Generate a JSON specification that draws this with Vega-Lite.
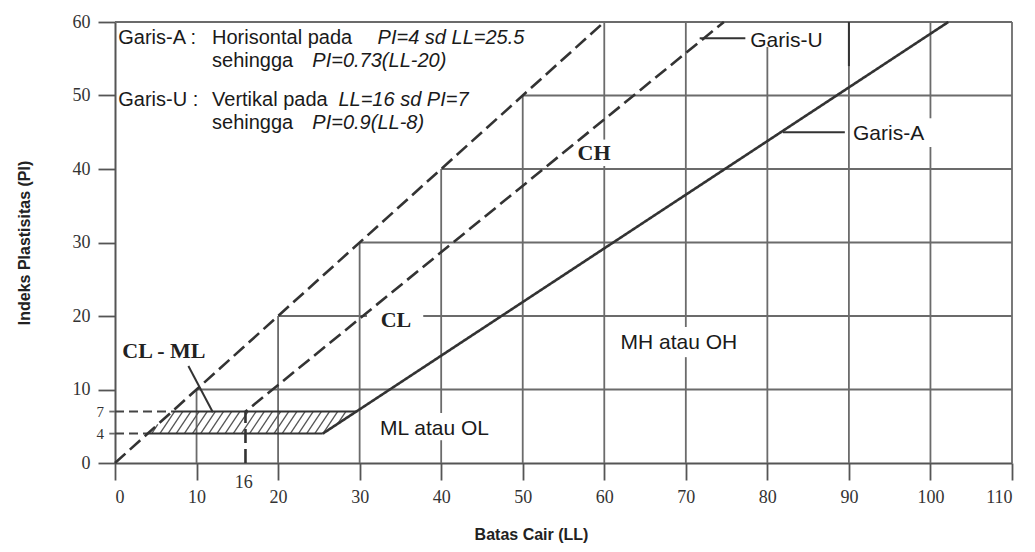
{
  "$schema": "https://vega.github.io/schema/vega-lite/v6.json",
  "width": 897,
  "height": 441,
  "autosize": {"type": "none"},
  "padding": {"left": 115, "top": 22, "right": 23, "bottom": 89},
  "background": "white",
  "config": {
    "view": {"stroke": null},
    "axis": {"grid": false}
  },
  "datasets": {
    "grid": [
      {"x": 10, "y": 0, "x2": 10, "y2": 10},
      {"x": 20, "y": 0, "x2": 20, "y2": 20},
      {"x": 30, "y": 0, "x2": 30, "y2": 30},
      {"x": 40, "y": 0, "x2": 40, "y2": 3.1},
      {"x": 40, "y": 6.8, "x2": 40, "y2": 40},
      {"x": 50, "y": 0, "x2": 50, "y2": 50},
      {"x": 60, "y": 0, "x2": 60, "y2": 40.4},
      {"x": 60, "y": 44, "x2": 60, "y2": 60},
      {"x": 70, "y": 0, "x2": 70, "y2": 14.4},
      {"x": 70, "y": 18.5, "x2": 70, "y2": 60},
      {"x": 80, "y": 0, "x2": 80, "y2": 56.6},
      {"x": 90, "y": 0, "x2": 90, "y2": 60},
      {"x": 100, "y": 0, "x2": 100, "y2": 43},
      {"x": 100, "y": 46.9, "x2": 100, "y2": 60},
      {"x": 110, "y": 0, "x2": 110, "y2": 60},
      {"x": 10, "y": 10, "x2": 110, "y2": 10},
      {"x": 20, "y": 20, "x2": 30.9, "y2": 20},
      {"x": 37.8, "y": 20, "x2": 110, "y2": 20},
      {"x": 30, "y": 30, "x2": 110, "y2": 30},
      {"x": 40, "y": 40, "x2": 110, "y2": 40},
      {"x": 50, "y": 50, "x2": 110, "y2": 50},
      {"x": 0, "y": 60, "x2": 110, "y2": 60},
      {"x": -0.7, "y": 7, "x2": 0, "y2": 7},
      {"x": -0.7, "y": 4, "x2": 0, "y2": 4}
    ],
    "dark": [
      {"x": 90, "y": 54, "x2": 90, "y2": 60},
      {"x": 4, "y": 4, "x2": 25.48, "y2": 4},
      {"x": 7, "y": 7, "x2": 29.59, "y2": 7},
      {"x": 71.7, "y": 57.8, "x2": 77.3, "y2": 57.8},
      {"x": 81.9, "y": 45, "x2": 89.5, "y2": 45},
      {"x": 9, "y": 13.2, "x2": 12, "y2": 6.9}
    ],
    "dashed": [
      {"x": 0, "y": 7, "x2": 7, "y2": 7},
      {"x": 0, "y": 4, "x2": 4, "y2": 4}
    ],
    "hatch": [
      {"x": 4.5, "y": 4, "x2": 5.25, "y2": 5.25},
      {"x": 5.5, "y": 4, "x2": 7.3, "y2": 7},
      {"x": 6.5, "y": 4, "x2": 8.3, "y2": 7},
      {"x": 7.5, "y": 4, "x2": 9.3, "y2": 7},
      {"x": 8.5, "y": 4, "x2": 10.3, "y2": 7},
      {"x": 9.5, "y": 4, "x2": 11.3, "y2": 7},
      {"x": 10.5, "y": 4, "x2": 12.3, "y2": 7},
      {"x": 11.5, "y": 4, "x2": 13.3, "y2": 7},
      {"x": 12.5, "y": 4, "x2": 14.3, "y2": 7},
      {"x": 13.5, "y": 4, "x2": 15.3, "y2": 7},
      {"x": 14.5, "y": 4, "x2": 16.3, "y2": 7},
      {"x": 15.5, "y": 4, "x2": 17.3, "y2": 7},
      {"x": 16.5, "y": 4, "x2": 18.3, "y2": 7},
      {"x": 17.5, "y": 4, "x2": 19.3, "y2": 7},
      {"x": 18.5, "y": 4, "x2": 20.3, "y2": 7},
      {"x": 19.5, "y": 4, "x2": 21.3, "y2": 7},
      {"x": 20.5, "y": 4, "x2": 22.3, "y2": 7},
      {"x": 21.5, "y": 4, "x2": 23.3, "y2": 7},
      {"x": 22.5, "y": 4, "x2": 24.3, "y2": 7},
      {"x": 23.5, "y": 4, "x2": 25.3, "y2": 7},
      {"x": 24.5, "y": 4, "x2": 26.3, "y2": 7},
      {"x": 25.5, "y": 4, "x2": 27.3, "y2": 7},
      {"x": 27.3, "y": 5.33, "x2": 28.3, "y2": 7}
    ],
    "curves": [
      {"s": "LL", "o": 1, "x": 0, "y": 0},
      {"s": "LL", "o": 2, "x": 60, "y": 60},
      {"s": "U", "o": 1, "x": 16, "y": 0},
      {"s": "U", "o": 2, "x": 16, "y": 7},
      {"s": "U", "o": 3, "x": 74.67, "y": 60},
      {"s": "A", "o": 1, "x": 25.48, "y": 4},
      {"s": "A", "o": 2, "x": 102.19, "y": 60}
    ],
    "txt": [
      {"g": "note", "x": 0.4, "y": 57.0, "t": "Garis-A :"},
      {"g": "note", "x": 11.9, "y": 57.0, "t": "Horisontal pada"},
      {"g": "note", "x": 11.9, "y": 53.9, "t": "sehingga"},
      {"g": "note", "x": 0.4, "y": 48.6, "t": "Garis-U :"},
      {"g": "note", "x": 11.9, "y": 48.6, "t": "Vertikal pada"},
      {"g": "note", "x": 11.9, "y": 45.4, "t": "sehingga"},
      {"g": "noteit", "x": 32.2, "y": 57.0, "t": "PI=4 sd LL=25.5"},
      {"g": "noteit", "x": 24.2, "y": 53.9, "t": "PI=0.73(LL-20)"},
      {"g": "noteit", "x": 27.4, "y": 48.6, "t": "LL=16 sd PI=7"},
      {"g": "noteit", "x": 24.2, "y": 45.4, "t": "PI=0.9(LL-8)"},
      {"g": "label", "x": 77.9, "y": 56.6, "t": "Garis-U"},
      {"g": "label", "x": 90.5, "y": 43.9, "t": "Garis-A"},
      {"g": "label", "x": 62.0, "y": 15.5, "t": "MH atau OH"},
      {"g": "label", "x": 32.5, "y": 3.8, "t": "ML atau OL"},
      {"g": "serif", "x": 58.75, "y": 41.2, "t": "CH"},
      {"g": "serif", "x": 34.45, "y": 18.5, "t": "CL"},
      {"g": "serif", "x": 6.0, "y": 14.3, "t": "CL - ML"},
      {"g": "tick", "x": 15.8, "y": -2.7, "t": "16"},
      {"g": "small", "x": -1.8, "y": 7, "t": "7"},
      {"g": "small", "x": -1.8, "y": 4, "t": "4"}
    ]
  },
  "encoding": {
    "x": {
      "field": "x",
      "type": "quantitative",
      "scale": {"domain": [0, 110], "nice": false, "zero": false},
      "axis": {
        "values": [0, 10, 20, 30, 40, 50, 60, 70, 80, 90, 100, 110],
        "title": "Batas Cair   (LL)",
        "titleFont": "Liberation Sans",
        "titleFontSize": 16,
        "titleFontWeight": "bold",
        "titleColor": "#222",
        "titlePadding": 20,
        "titleX": 416,
        "labelFont": "Liberation Serif",
        "labelFontSize": 18,
        "labelColor": "#333",
        "labelPadding": 8,
        "tickSize": 17,
        "tickColor": "#555",
        "tickWidth": 1.8,
        "domainColor": "#555",
        "domainWidth": 2
      }
    },
    "y": {
      "field": "y",
      "type": "quantitative",
      "scale": {"domain": [0, 60], "nice": false, "zero": false},
      "axis": {
        "values": [0, 10, 20, 30, 40, 50, 60],
        "title": "Indeks Plastisitas (PI)",
        "titleFont": "Liberation Sans",
        "titleFontSize": 16,
        "titleFontWeight": "bold",
        "titleColor": "#222",
        "titlePadding": 40,
        "labelFont": "Liberation Serif",
        "labelFontSize": 18,
        "labelColor": "#333",
        "labelPadding": 8,
        "tickSize": 17,
        "tickColor": "#555",
        "tickWidth": 1.8,
        "domainColor": "#555",
        "domainWidth": 2
      }
    }
  },
  "layer": [
    {
      "data": {"name": "grid"},
      "mark": {"type": "rule", "color": "#6b6b6b", "strokeWidth": 1.8},
      "encoding": {"x2": {"field": "x2"}, "y2": {"field": "y2"}}
    },
    {
      "data": {"name": "hatch"},
      "mark": {"type": "rule", "color": "#555", "strokeWidth": 1.3},
      "encoding": {"x2": {"field": "x2"}, "y2": {"field": "y2"}}
    },
    {
      "data": {"name": "dashed"},
      "mark": {"type": "rule", "color": "#444", "strokeWidth": 2, "strokeDash": [9, 5]},
      "encoding": {"x2": {"field": "x2"}, "y2": {"field": "y2"}}
    },
    {
      "data": {"name": "curves"},
      "mark": {"type": "line", "color": "#333", "strokeWidth": 2.6},
      "encoding": {
        "order": {"field": "o", "type": "quantitative"},
        "detail": {"field": "s", "type": "nominal"},
        "strokeDash": {
          "field": "s",
          "type": "nominal",
          "scale": {"domain": ["A", "LL", "U"], "range": [[1, 0], [14, 6], [14, 6]]},
          "legend": null
        }
      }
    },
    {
      "data": {"name": "dark"},
      "mark": {"type": "rule", "color": "#333", "strokeWidth": 2},
      "encoding": {"x2": {"field": "x2"}, "y2": {"field": "y2"}}
    },
    {
      "data": {"name": "txt"},
      "transform": [{"filter": "datum.g == 'note'"}],
      "mark": {"type": "text", "font": "Liberation Sans", "fontSize": 20, "align": "left", "baseline": "alphabetic", "color": "#1a1a1a"},
      "encoding": {"text": {"field": "t"}}
    },
    {
      "data": {"name": "txt"},
      "transform": [{"filter": "datum.g == 'noteit'"}],
      "mark": {"type": "text", "font": "Liberation Sans", "fontSize": 20, "fontStyle": "italic", "align": "left", "baseline": "alphabetic", "color": "#1a1a1a"},
      "encoding": {"text": {"field": "t"}}
    },
    {
      "data": {"name": "txt"},
      "transform": [{"filter": "datum.g == 'label'"}],
      "mark": {"type": "text", "font": "Liberation Sans", "fontSize": 21, "align": "left", "baseline": "alphabetic", "color": "#1a1a1a"},
      "encoding": {"text": {"field": "t"}}
    },
    {
      "data": {"name": "txt"},
      "transform": [{"filter": "datum.g == 'serif'"}],
      "mark": {"type": "text", "font": "Liberation Serif", "fontSize": 22, "fontWeight": "bold", "align": "center", "baseline": "alphabetic", "color": "#222"},
      "encoding": {"text": {"field": "t"}}
    },
    {
      "data": {"name": "txt"},
      "transform": [{"filter": "datum.g == 'tick'"}],
      "mark": {"type": "text", "font": "Liberation Serif", "fontSize": 18, "align": "center", "baseline": "middle", "color": "#333"},
      "encoding": {"text": {"field": "t"}}
    },
    {
      "data": {"name": "txt"},
      "transform": [{"filter": "datum.g == 'small'"}],
      "mark": {"type": "text", "font": "Liberation Serif", "fontSize": 15, "align": "center", "baseline": "middle", "color": "#333"},
      "encoding": {"text": {"field": "t"}}
    }
  ]
}
